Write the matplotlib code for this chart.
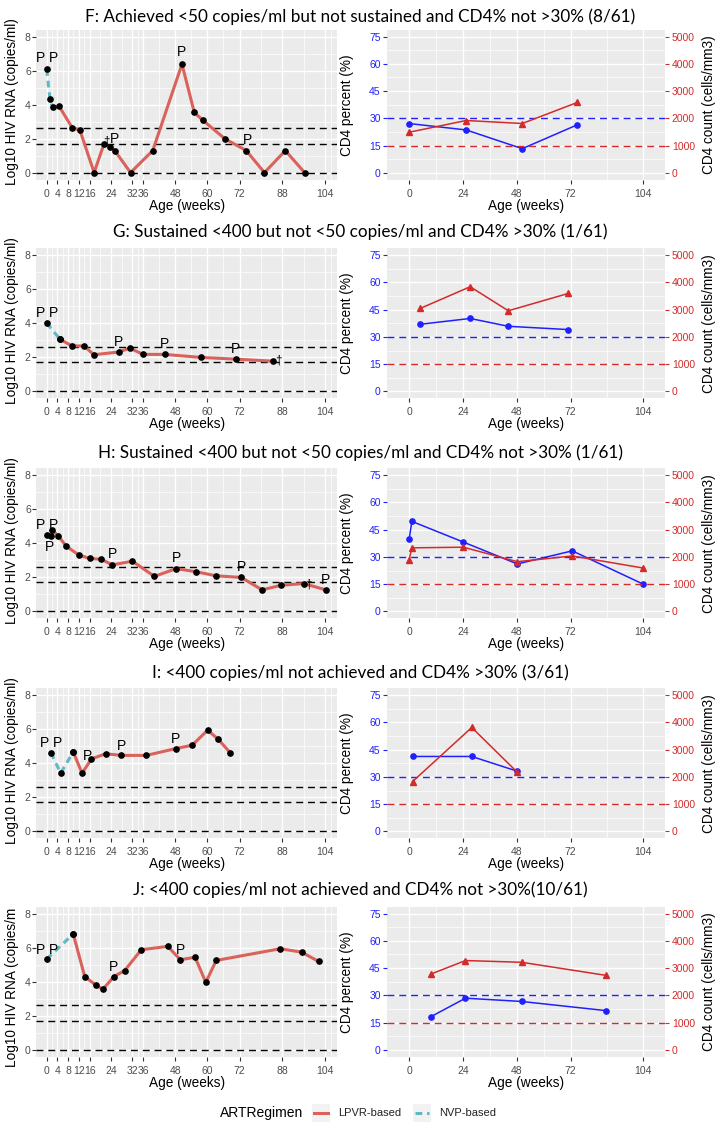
import matplotlib
matplotlib.use("Agg")
import matplotlib.pyplot as plt

# ---- data ------------------------------------------------------------------

TITLES = [
    "F: Achieved <50 copies/ml but not sustained and CD4% not >30% (8/61)",
    "G: Sustained <400 but not <50 copies/ml and CD4% >30% (1/61)",
    "H: Sustained <400 but not <50 copies/ml and CD4% not >30% (1/61)",
    "I: <400 copies/ml not achieved and CD4% >30% (3/61)",
    "J: <400 copies/ml not achieved and CD4% not >30%(10/61)",
]

# row F
F_NVP_WK = [0, 1.2, 2.2]
F_NVP_RNA = [6.1, 4.35, 3.85]
F_LPV_WK = [4.5, 9.5, 12.4, 17.7, 21.4, 23.5, 25.4, 31.3, 39.6, 50.5, 55.1,
            58.2, 66.5, 74.5, 81.3, 89.1, 96.3]
F_LPV_RNA = [3.95, 2.65, 2.5, 0, 1.7, 1.5, 1.3, 0, 1.3, 6.4, 3.55,
             3.1, 2.0, 1.3, 0, 1.3, 0]
F_P_WK = [-2.5, 2.7, 25.4, 50.5, 74.9]
F_P_Y = [6.75, 6.75, 2.0, 7.1, 1.95]
F_DAG = (22.4, 1.85)
F_CD4_WK = [0, 25.4, 50.4, 74.9]
F_CD4_PCT = [27.2, 23.7, 13.4, 26.5]
F_CD4_CNT = [1495, 1925, 1815, 2585]

# row G
G_NVP_WK = [0, 5.0]
G_NVP_RNA = [4.0, 3.05]
G_LPV_WK = [5.0, 9.3, 14.0, 17.6, 26.9, 31.0, 36.0, 44.0, 57.7, 70.5, 84.4]
G_LPV_RNA = [3.05, 2.67, 2.65, 2.14, 2.3, 2.53, 2.16, 2.16, 1.98, 1.88, 1.76]
G_P_WK = [-2.5, 2.5, 26.9, 44.0, 70.5]
G_P_Y = [4.6, 4.6, 2.9, 2.75, 2.5]
G_DAG = (86.6, 1.8)
G_CD4_WK = [4.9, 27.2, 44.2, 70.9]
G_CD4_PCT = [36.9, 40.1, 35.8, 34.0]
G_CD4_CNT = [3040, 3835, 2955, 3590]

# row H
H_NVP_WK = [0, 1.5]
H_NVP_RNA = [4.5, 4.4]
H_LPV_WK = [2.1, 4.3, 7.1, 12.0, 16.1, 20.4, 24.5, 32.0, 40.2, 48.3, 55.7,
            63.1, 72.6, 80.4, 87.6, 95.9, 104.2]
H_LPV_RNA = [4.75, 4.45, 3.85, 3.3, 3.1, 3.05, 2.72, 2.94, 2.04, 2.5, 2.32,
             2.08, 1.98, 1.25, 1.52, 1.62, 1.25]
H_P_WK = [-2.5, 2.5, 1.2, 24.5, 48.3, 72.6, 104.2]
H_P_Y = [5.05, 5.05, 3.75, 3.35, 3.1, 2.6, 1.85]
H_DAG = (97.6, 1.55)
H_CD4_WK = [0, 1.2, 24.2, 48.2, 72.7, 104.3]
H_CD4_PCT = [39.6, 49.5, 38.1, 26.1, 33.3, 15.0]
H_CD4_CNT = [1897, 2330, 2353, 1823, 2033, 1590]

# row I
I_NVP_WK = [1.6, 5.2, 9.9]
I_NVP_RNA = [4.62, 3.41, 4.66]
I_LPV_WK = [9.9, 13.2, 16.7, 22.0, 27.9, 37.2, 48.1, 54.3, 60.1, 64.1, 68.5]
I_LPV_RNA = [4.66, 3.41, 4.25, 4.56, 4.46, 4.46, 4.86, 5.06, 5.95, 5.4, 4.62]
I_P_WK = [-0.9, 4.1, 15.1, 27.9, 48.0]
I_P_Y = [5.2, 5.2, 4.4, 5.0, 5.45]
I_DAG = None
I_CD4_WK = [1.5, 27.9, 48.2]
I_CD4_PCT = [41.2, 41.2, 33.1]
I_CD4_CNT = [1825, 3808, 2168]

# row J
J_NVP_WK = [0, 9.9]
J_NVP_RNA = [5.34, 6.82]
J_LPV_WK = [9.9, 14.2, 18.3, 21.0, 25.1, 29.1, 35.3, 45.2, 49.9, 55.4, 59.4,
            63.3, 87.2, 95.2, 101.5]
J_LPV_RNA = [6.82, 4.31, 3.81, 3.56, 4.31, 4.66, 5.89, 6.09, 5.3, 5.45, 3.97,
             5.26, 5.95, 5.75, 5.2]
J_P_WK = [-2.5, 2.5, 25.1, 49.9]
J_P_Y = [5.9, 5.9, 4.9, 5.9]
J_DAG = None
J_CD4_WK = [9.8, 25.1, 50.1, 87.5]
J_CD4_PCT = [18.4, 28.5, 26.7, 21.7]
J_CD4_CNT = [2787, 3278, 3215, 2738]

RNA_TICKS = [0, 4, 8, 12, 16, 24, 32, 36, 48, 60, 72, 88, 104]
RNA_MINOR = [2, 6, 10, 14, 20, 28, 34, 42, 54, 66, 80, 96, 106]
CD4_TICKS = [0, 24, 48, 72, 104]
CD4_MINOR = [12, 36, 60, 88]
THRESH_RNA = [2.602, 1.699, 0]  # log10(400), log10(50), 0

# ---- styling --------------------------------------------------------------

W, H = 720, 1125
BG = "#EBEBEB"
LPV_COL = "#D9625A"
NVP_COL = "#5BBAC4"
BLUE = "#2020FF"
RED = "#D42A2A"
TXT = "#4D4D4D"
AXFONT = "Liberation Sans"

ROW_TOPS = [29.7, 248.1, 468.1, 688.1, 906.7]
TITLE_Y = [17, 232, 453, 673, 890]
PANEL_H = 150.2
LEFT_X = (36.0, 337.3)
RIGHT_X = (386.7, 665.0)
LEFT_W = LEFT_X[1] - LEFT_X[0]
RIGHT_W = RIGHT_X[1] - RIGHT_X[0]

plt.rcParams["font.family"] = [AXFONT, "DejaVu Sans"]


def box(x0, x1, top):
    return [x0 / W, 1 - (top + PANEL_H) / H, (x1 - x0) / W, PANEL_H / H]


def style_axes(ax, major, minor, ymajor, yminor):
    ax.set_facecolor(BG)
    for s in ax.spines.values():
        s.set_visible(False)
    ax.set_xticks(major)
    ax.set_xticks(minor, minor=True)
    ax.set_yticks(ymajor)
    ax.set_yticks(yminor, minor=True)
    ax.grid(which="major", color="white", lw=1.0)
    ax.grid(which="minor", color="white", lw=0.5)
    ax.set_axisbelow(True)
    ax.tick_params(which="minor", length=0)
    ax.tick_params(which="major", length=2.75, width=0.8, color="#333333",
                   labelsize=7.5, labelcolor=TXT)
    ax.tick_params(axis="x", pad=3.5)
    ax.set_xlabel("Age (weeks)", fontsize=9.8)
    ax.xaxis.set_label_coords(0.5, -26 / PANEL_H)
    ax.xaxis.label.set_va("center")


def rna_panel(ax, nvp_wk, nvp_rna, lpv_wk, lpv_rna, p_wk, p_y, dag, last):
    style_axes(ax, RNA_TICKS, RNA_MINOR, [0, 2, 4, 6, 8], [1, 3, 5, 7])
    ax.set_xlim(-4, 108.5)
    ax.set_ylim(-0.43, 8.43)
    ax.tick_params(axis="y", pad=1.0)
    for y in THRESH_RNA:
        ax.axhline(y, color="black", lw=1.0, ls=(0, (5, 3.5)), zorder=2)
    ax.plot(lpv_wk, lpv_rna, color=LPV_COL, lw=2.2, zorder=3,
            solid_capstyle="round")
    ax.plot(nvp_wk, nvp_rna, color=NVP_COL, lw=2.2, ls=(0, (2.2, 1.6)),
            zorder=3)
    ax.plot(nvp_wk + lpv_wk, nvp_rna + lpv_rna, ls="none", marker="o",
            ms=3.8, color="black", zorder=4)
    for x, y in zip(p_wk, p_y):
        ax.text(x, y, "P", fontsize=10, ha="center", va="center", zorder=5)
    if dag is not None:
        ax.text(dag[0], dag[1], "\u2020", fontsize=8.5, ha="center",
                va="center", zorder=5)
    # label anchor sits on the right edge of the rotated text
    if last:
        ax.set_ylabel("Log10 HIV RNA (copies/m", fontsize=9.8)
        ax.yaxis.set_label_coords((19 - LEFT_X[0]) / LEFT_W, 0.462)
    else:
        ax.set_ylabel("Log10 HIV RNA (copies/ml)", fontsize=9.8)
        ax.yaxis.set_label_coords((19 - LEFT_X[0]) / LEFT_W, 0.52)


def cd4_panel(ax, wk, pct, cnt):
    style_axes(ax, CD4_TICKS, CD4_MINOR, [0, 15, 30, 45, 60, 75],
               [7.5, 22.5, 37.5, 52.5, 67.5])
    ax.set_xlim(-10, 114)
    ax.set_ylim(-3.75, 78.75)
    ax.tick_params(axis="y", pad=1.6, labelcolor=BLUE, color=BLUE)
    ax.set_ylabel("CD4 percent (%)", fontsize=9.8)
    ax.yaxis.set_label_coords((354 - RIGHT_X[0]) / RIGHT_W, 0.5)

    ax2 = ax.twinx()
    for s in ax2.spines.values():
        s.set_visible(False)
    ax2.set_ylim(-250, 5250)
    ax2.set_yticks([0, 1000, 2000, 3000, 4000, 5000])
    ax2.tick_params(length=2.75, width=0.8, pad=2.2, labelsize=7.5,
                    labelcolor=RED, color=RED)
    ax2.set_ylabel("CD4 count (cells/mm3)", fontsize=9.8, rotation=90)
    ax2.yaxis.set_label_coords((702 - RIGHT_X[0]) / RIGHT_W, 0.5)

    ax.axhline(30, color=BLUE, lw=1.0, ls=(0, (5, 3.5)), zorder=2)
    ax2.axhline(1000, color=RED, lw=1.0, ls=(0, (5, 3.5)), zorder=2)
    ax.plot(wk, pct, color=BLUE, lw=1.1, marker="o", ms=3.8, zorder=3)
    ax2.plot(wk, cnt, color=RED, lw=1.1, marker="^", ms=4.5, zorder=3)


fig = plt.figure(figsize=(W / 100, H / 100), dpi=100)

rows = [
    (F_NVP_WK, F_NVP_RNA, F_LPV_WK, F_LPV_RNA, F_P_WK, F_P_Y, F_DAG,
     F_CD4_WK, F_CD4_PCT, F_CD4_CNT),
    (G_NVP_WK, G_NVP_RNA, G_LPV_WK, G_LPV_RNA, G_P_WK, G_P_Y, G_DAG,
     G_CD4_WK, G_CD4_PCT, G_CD4_CNT),
    (H_NVP_WK, H_NVP_RNA, H_LPV_WK, H_LPV_RNA, H_P_WK, H_P_Y, H_DAG,
     H_CD4_WK, H_CD4_PCT, H_CD4_CNT),
    (I_NVP_WK, I_NVP_RNA, I_LPV_WK, I_LPV_RNA, I_P_WK, I_P_Y, I_DAG,
     I_CD4_WK, I_CD4_PCT, I_CD4_CNT),
    (J_NVP_WK, J_NVP_RNA, J_LPV_WK, J_LPV_RNA, J_P_WK, J_P_Y, J_DAG,
     J_CD4_WK, J_CD4_PCT, J_CD4_CNT),
]

for i, row in enumerate(rows):
    top = ROW_TOPS[i]
    axl = fig.add_axes(box(*LEFT_X, top))
    rna_panel(axl, *row[:7], last=(i == len(rows) - 1))
    axr = fig.add_axes(box(*RIGHT_X, top))
    cd4_panel(axr, *row[7:])
    fig.text(0.5, 1 - TITLE_Y[i] / H, TITLES[i], ha="center", va="center",
             fontsize=12.3, family=["Lato", "DejaVu Sans"])

# legend drawn by hand, ggplot style
LEG_Y = 1113
fig.text(220 / W, 1 - LEG_Y / H, "ARTRegimen", fontsize=10, va="center")
for x0, col, ls, label in [(312, LPV_COL, "-", "LPVR-based"),
                           (413, NVP_COL, (0, (2.2, 1.6)), "NVP-based")]:
    kax = fig.add_axes([x0 / W, 1 - (LEG_Y + 9) / H, 18 / W, 18 / H])
    kax.set_facecolor("#F2F2F2")
    kax.set_xlim(0, 1)
    kax.set_ylim(0, 1)
    kax.plot([0.1, 0.9], [0.5, 0.5], color=col, lw=2.2, ls=ls)
    kax.set_xticks([])
    kax.set_yticks([])
    for s in kax.spines.values():
        s.set_visible(False)
    fig.text((x0 + 26) / W, 1 - LEG_Y / H, label, fontsize=8, va="center",
             color="#222222")

fig.savefig("out.png", dpi=100, facecolor="white")
